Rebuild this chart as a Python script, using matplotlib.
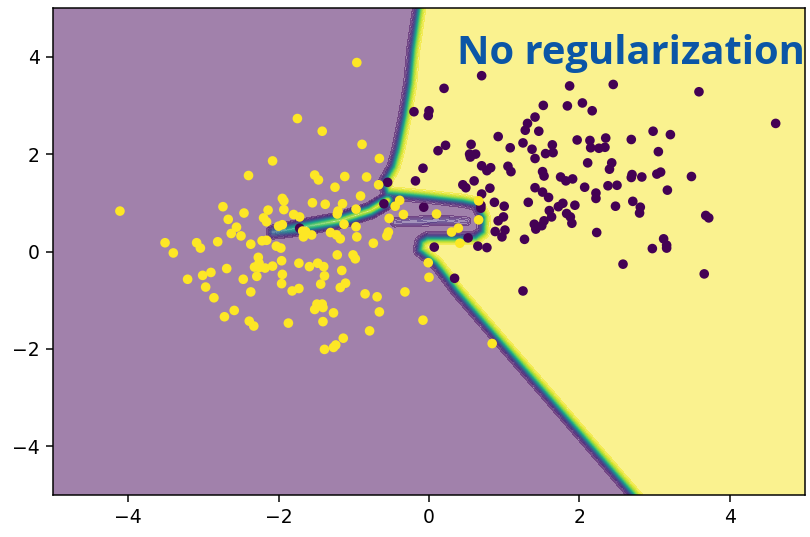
import numpy as np
import matplotlib
matplotlib.use('Agg')
import matplotlib.pyplot as plt
from matplotlib.path import Path

# class 0 points (dark purple)
purple = np.array([
    (0.70, 3.61), (0.20, 3.35), (-0.20, 2.87), (0.00, 2.89), (-0.01, 2.79), (0.92, 2.36),
    (0.12, 2.07), (0.22, 2.18), (0.56, 2.20), (0.54, 2.00), (0.62, 2.00), (0.55, 1.94),
    (-0.08, 1.71), (0.70, 1.76), (0.77, 1.66), (0.82, 1.72), (-0.18, 1.45), (0.60, 1.45),
    (-0.55, 1.42), (0.45, 1.37), (0.49, 1.31), (0.81, 1.30), (0.70, 1.18), (0.87, 1.01),
    (-0.60, 0.98), (-0.07, 0.91), (0.69, 0.95), (0.69, 0.89), (-1.72, 0.48), (0.07, 0.09),
    (0.52, 0.28), (0.65, 0.11), (0.77, 0.08), (0.88, 0.41), (0.92, 0.63), (0.34, -0.55),
    (1.87, 3.40), (1.52, 3.00), (1.84, 2.99), (2.04, 3.05), (2.17, 2.89), (1.41, 2.76),
    (1.31, 2.63), (1.28, 2.49), (1.46, 2.47), (1.08, 2.13), (1.25, 2.23), (1.37, 2.10),
    (1.41, 1.91), (1.64, 2.19), (1.65, 2.03), (1.55, 2.01), (1.97, 2.29), (2.14, 2.28),
    (2.15, 2.13), (2.26, 2.12), (2.11, 1.82), (1.05, 1.75), (1.09, 1.64), (1.51, 1.64),
    (1.53, 1.55), (1.41, 1.31), (1.75, 1.53), (1.82, 1.45), (1.91, 1.49), (2.07, 1.32),
    (1.00, 0.93), (0.99, 0.71), (1.01, 0.44), (0.97, 0.30), (1.25, -0.81), (1.27, 0.25),
    (1.32, 1.01), (1.51, 1.22), (1.59, 1.11), (2.22, 1.20), (2.22, 1.09), (1.72, 0.92),
    (1.78, 0.99), (1.94, 0.95), (1.60, 0.84), (1.63, 0.71), (1.83, 0.78), (1.88, 0.71),
    (1.53, 0.63), (1.50, 0.53), (1.40, 0.56), (1.42, 0.46), (1.90, 0.58), (2.23, 0.39),
    (2.45, 3.43), (3.59, 3.28), (4.61, 2.63), (2.98, 2.47), (3.21, 2.40), (2.69, 2.30),
    (2.35, 2.33), (2.34, 2.14), (3.05, 2.05), (2.43, 1.82), (2.40, 1.69), (2.70, 1.58),
    (2.69, 1.52), (2.83, 1.53), (3.03, 1.59), (3.08, 1.63), (3.49, 1.54), (2.38, 1.35),
    (2.50, 1.36), (3.17, 1.26), (2.48, 0.93), (2.71, 1.03), (2.81, 0.91), (2.80, 0.79),
    (3.68, 0.74), (3.72, 0.69), (3.12, 0.26), (3.16, 0.13), (3.16, 0.07), (2.97, 0.06),
    (2.58, -0.26), (3.66, -0.46),
])

# class 1 points (yellow)
yellow = np.array([
    (-1.75, 2.73), (-2.08, 1.86), (-2.40, 1.56), (-4.11, 0.83), (-2.74, 0.92), (-2.67, 0.66),
    (-2.46, 0.79), (-2.14, 0.85), (-1.95, 1.09), (-1.93, 1.04), (-1.93, 0.86), (-1.80, 0.76),
    (-1.72, 0.71), (-2.20, 0.69), (-2.16, 0.61), (-2.56, 0.50), (-2.00, 0.52), (-1.95, 0.55),
    (-2.63, 0.37), (-2.50, 0.32), (-3.51, 0.18), (-3.40, -0.03), (-3.09, 0.18), (-3.04, 0.07),
    (-2.81, 0.20), (-2.37, 0.15), (-2.22, 0.22), (-2.16, 0.23), (-2.03, 0.11), (-1.97, 0.07),
    (-2.27, -0.12), (-2.26, -0.24), (-2.32, -0.32), (-2.26, -0.33), (-2.18, -0.34), (-2.08, -0.30),
    (-1.96, -0.19), (-1.73, -0.24), (-2.69, -0.35), (-2.90, -0.43), (-3.01, -0.49), (-3.21, -0.57),
    (-2.47, -0.57), (-2.29, -0.51), (-1.95, -0.47), (-1.96, -0.66), (-2.97, -0.73), (-2.86, -0.95),
    (-2.37, -0.83), (-1.82, -0.81), (-1.73, -0.76), (-2.59, -1.21), (-2.72, -1.34), (-2.39, -1.43),
    (-2.33, -1.53), (-1.87, -1.47), (-0.96, 3.88), (-1.42, 2.47), (-0.89, 2.20), (-0.66, 1.91),
    (-1.52, 1.57), (-1.47, 1.47), (-1.12, 1.54), (-0.83, 1.53), (-1.25, 1.32), (-0.67, 1.37),
    (-0.91, 1.14), (-1.55, 1.00), (-1.38, 0.97), (-1.15, 0.98), (-1.21, 0.83), (-1.22, 0.77),
    (-0.97, 0.87), (-0.45, 0.93), (-0.39, 1.05), (-0.34, 0.76), (0.10, 0.77), (0.66, 1.04),
    (-0.53, 0.68), (0.66, 0.65), (-1.68, 0.42), (-1.64, 0.41), (-1.67, 0.30), (-1.56, 0.34),
    (-1.13, 0.56), (-0.97, 0.51), (-1.31, 0.39), (-1.23, 0.34), (-1.18, 0.26), (-0.96, 0.30),
    (-0.54, 0.40), (-0.56, 0.32), (-0.74, 0.17), (0.30, 0.40), (0.39, 0.48), (0.41, 0.17),
    (-1.22, -0.07), (-1.01, -0.07), (-0.98, -0.15), (-1.59, -0.31), (-1.48, -0.24), (-1.40, -0.31),
    (-1.16, -0.39), (-1.39, -0.50), (-0.01, -0.23), (0.00, -0.53), (-1.44, -0.67), (-1.18, -0.74),
    (-1.11, -0.65), (-0.85, -0.87), (-0.69, -0.93), (-0.32, -0.83), (-1.49, -1.08), (-1.42, -1.08),
    (-1.52, -1.19), (-1.41, -1.15), (-1.27, -1.26), (-0.66, -1.24), (-1.41, -1.44), (-0.08, -1.41),
    (-0.79, -1.63), (-1.14, -1.78), (-1.39, -2.01), (-1.27, -1.97), (-1.24, -1.92), (0.84, -1.89),
])

# 0.5 boundary of the yellow region, traced clockwise
bnd_x = [-0.06, -0.13, -0.21, -0.25, -0.32, -0.41, -0.47, -0.59, -0.55, 0.00, 0.45, 0.64,
         0.73, 0.72, 0.62, 0.30, -0.02, -0.10, -0.12, 0.10, 0.24, 0.37, 0.98, 1.64, 2.73,
         3.00, 5.5, 5.5]
bnd_y = [5.5, 5.0, 4.14, 3.45, 2.77, 2.08, 1.74, 1.41, 1.20, 1.12, 1.04, 0.98,
         0.70, 0.40, 0.28, 0.27, 0.27, 0.20, 0.03, -0.24, -0.52, -0.79, -1.88, -3.05, -5.0,
         -5.5, -5.5, 5.5]

# thin ridge sticking out to the left
arm_x = [-2.07, -1.72, -1.18, -0.78, -0.55]
arm_y = [0.40, 0.49, 0.64, 0.84, 1.05]
arm_v = [0.30, 0.70, 0.85, 0.90, 1.00]

# faint ridge inside the pocket
pocket_x = [-0.45, 0.10, 0.50]
pocket_y = [0.60, 0.64, 0.62]
pocket_v = [0.10, 0.15, 0.08]

SX, SY = 75.2, 48.7  # px per data unit


def seg_dist(px, py, ax_, ay_, bx, by):
    dx, dy = bx - ax_, by - ay_
    t = ((px - ax_) * dx + (py - ay_) * dy) / (dx * dx + dy * dy)
    t = np.clip(t, 0, 1)
    return np.hypot(px - ax_ - t * dx, py - ay_ - t * dy), t


def ridge(Z, X, Y, xs, ys, vs, w):
    for i in range(len(xs) - 1):
        d, t = seg_dist(X, Y, xs[i] * SX, ys[i] * SY, xs[i + 1] * SX, ys[i + 1] * SY)
        peak = vs[i] + t * (vs[i + 1] - vs[i])
        Z = np.maximum(Z, peak * np.exp(-(d / w) ** 2))
    return Z


xx, yy = np.meshgrid(np.linspace(-5, 5, 760), np.linspace(-5, 5, 500))
X, Y = xx * SX, yy * SY
bx, by = np.array(bnd_x) * SX, np.array(bnd_y) * SY
d = np.full(xx.shape, np.inf)
n = len(bx)
for i in range(n):
    j = (i + 1) % n
    di, _ = seg_dist(X, Y, bx[i], by[i], bx[j], by[j])
    d = np.minimum(d, di)
inside = Path(np.column_stack([bnd_x, bnd_y])).contains_points(
    np.column_stack([xx.ravel(), yy.ravel()])).reshape(xx.shape)
sd = np.where(inside, d, -d)
Z = 1 / (1 + np.exp(-sd / 1.8))
Z = ridge(Z, X, Y, arm_x, arm_y, arm_v, 4.5)
Z = ridge(Z, X, Y, pocket_x, pocket_y, pocket_v, 4.0)

fig = plt.figure(figsize=(6, 537 / 135), dpi=135)
ax = fig.add_axes([53 / 810, 42 / 537, 752 / 810, 487 / 537])
ax.contourf(xx, yy, Z, levels=np.linspace(0, 1, 41), cmap='viridis', alpha=0.5)

pts = np.vstack([purple, yellow])
cls = np.r_[np.zeros(len(purple)), np.ones(len(yellow))]
ax.scatter(pts[:, 0], pts[:, 1], c=cls, cmap='viridis', s=17)

ax.set_xlim(-5, 5)
ax.set_ylim(-5, 5)
ax.set_xticks([-4, -2, 0, 2, 4])
ax.set_yticks([-4, -2, 0, 2, 4])
ax.text(1.0, 0.885, 'No regularization', transform=ax.transAxes, ha='right', va='baseline',
        fontsize=21.3, fontweight='bold', color='#0b56a6', family='Open Sans')

fig.savefig('out.png', dpi=135)
